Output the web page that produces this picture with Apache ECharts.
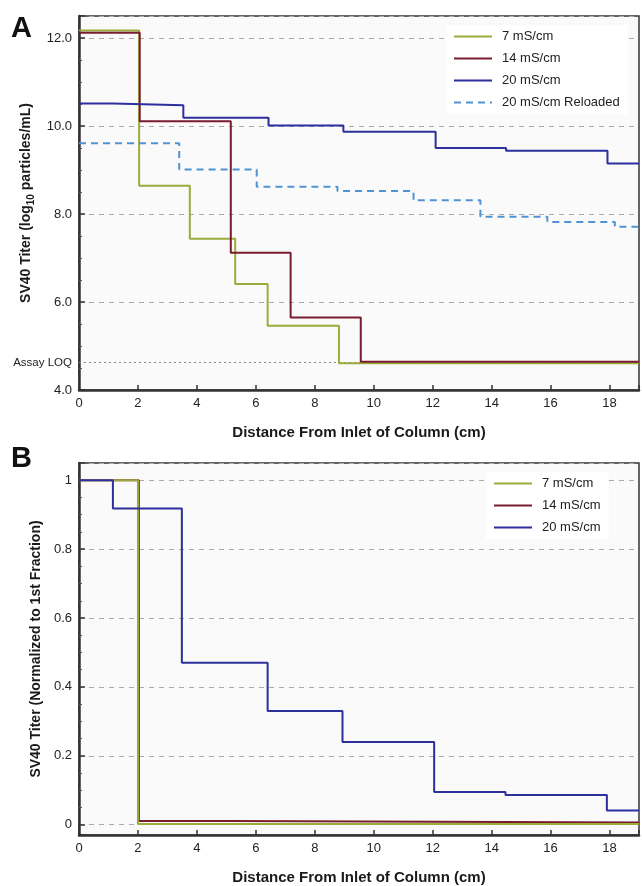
<!DOCTYPE html>
<html>
<head>
<meta charset="utf-8">
<script src="https://cdn.jsdelivr.net/npm/echarts@6.0.0/dist/echarts.min.js"></script>
<style>
	html, body { margin: 0; padding: 0; background: #fff; }
	#chart { width: 642px; height: 886px; }
</style>
</head>
<body>
<div id="chart"></div>
<script>
// panel A : log10 titer, step values start at the x given
var a7 = [[0, 12.17], [2.04, 8.64], [3.76, 7.44], [5.30, 6.41], [6.40, 5.46], [8.82, 4.61], [19, 4.61]];
var a14 = [[0, 12.12], [2.06, 10.11], [5.15, 7.12], [7.18, 5.65], [9.56, 4.64], [19, 4.64]];
var a20 = [[0, 10.51], [1.15, 10.47], [3.54, 10.19], [6.43, 10.01], [8.97, 9.87], [12.10, 9.50], [14.49, 9.44], [17.93, 9.15], [19, 9.15]];
var a20r = [[0, 9.61], [3.40, 9.01], [6.03, 8.62], [8.77, 8.52], [11.35, 8.31], [13.62, 7.94], [15.89, 7.82], [18.18, 7.71], [19, 7.71]];
var assayLOQ = 4.62;

// panel B : normalized to 1st fraction
var b7 = [[0, 1], [2.0, 0.002], [19, 0.002]];
var b14 = [[0, 1], [2.03, 0.011], [5.15, 0.006], [19, 0.006]];
var b20 = [[0, 1], [1.15, 0.918], [3.49, 0.47], [6.40, 0.33], [8.94, 0.24], [12.05, 0.095], [14.47, 0.086], [17.91, 0.041], [19, 0.041]];

var legendA = ['7 mS/cm', '14 mS/cm', '20 mS/cm', '20 mS/cm Reloaded'];
var legendB = ['7 mS/cm', '14 mS/cm', '20 mS/cm'];

var font = 'Liberation Sans, Arial, sans-serif';
var colors = {
	'7 mS/cm': '#9cab3a',
	'14 mS/cm': '#7a1c30',
	'20 mS/cm': '#2d2f9c',
	'20 mS/cm Reloaded': '#4f93d3'
};

function xAxisFor(index) {
	return {
		type: 'value',
		gridIndex: index,
		min: 0,
		max: 19,
		interval: 2,
		name: 'Distance From Inlet of Column (cm)',
		nameLocation: 'middle',
		nameGap: 35,
		nameTextStyle: { fontFamily: font, fontSize: 15, fontWeight: 'bold', color: '#1a1a1a' },
		axisLine: { onZero: false, lineStyle: { color: '#333', width: 2.5 } },
		axisTick: { inside: true, length: 5, lineStyle: { color: '#333', width: 1.5 } },
		axisLabel: {
			fontFamily: font, fontSize: 13, color: '#222', margin: 7,
			formatter: function(v) { return v % 2 === 0 ? String(v) : ''; }
		},
		splitLine: { show: false }
	};
}

function yAxisFor(index, opts) {
	var ax = {
		type: 'value',
		gridIndex: index,
		nameLocation: 'middle',
		nameTextStyle: { fontFamily: font, fontSize: 14, fontWeight: 'bold', color: '#1a1a1a' },
		axisLine: { lineStyle: { color: '#333', width: 2.5 } },
		axisTick: { inside: true, length: 6, lineStyle: { color: '#333', width: 1.5 } },
		minorTick: { show: true, splitNumber: 4, length: 3, lineStyle: { color: '#555', width: 1 } },
		axisLabel: { fontFamily: font, fontSize: 13, color: '#222', margin: 7, showMaxLabel: false },
		splitLine: { show: true, lineStyle: { color: '#aaa', type: [5, 5], width: 1 } }
	};
	for (var k in opts) ax[k] = opts[k];
	return ax;
}

function stepSeries(name, data, xi, yi, dashed) {
	return {
		name: name,
		type: 'line',
		step: 'end',
		xAxisIndex: xi,
		yAxisIndex: yi,
		symbol: 'none',
		data: data,
		lineStyle: { color: colors[name], width: 2, type: dashed ? [7, 5] : 'solid' },
		itemStyle: { color: colors[name] }
	};
}

var series = [
	stepSeries('7 mS/cm', a7, 0, 0),
	stepSeries('14 mS/cm', a14, 0, 0),
	stepSeries('20 mS/cm', a20, 0, 0),
	stepSeries('20 mS/cm Reloaded', a20r, 0, 0, true),
	stepSeries('14 mS/cm', b14, 1, 1),
	stepSeries('7 mS/cm', b7, 1, 1),
	stepSeries('20 mS/cm', b20, 1, 1)
];

// LOQ dotted line with its label on the left
series[0].markLine = {
	silent: true,
	symbol: 'none',
	z: 1,
	data: [{ yAxis: assayLOQ }],
	lineStyle: { color: '#888', type: [2, 3], width: 1 },
	label: { position: 'start', formatter: 'Assay LOQ', fontFamily: font, fontSize: 11.5, color: '#222', distance: 7 }
};

var legendCommon = {
	orient: 'vertical',
	itemWidth: 38,
	itemHeight: 14,
	itemGap: 9,
	backgroundColor: '#fff',
	itemStyle: { opacity: 0 },
	textStyle: { fontFamily: font, fontSize: 13, color: '#222', padding: [0, 0, 0, 5] }
};

var chart = echarts.init(document.getElementById('chart'), null, { renderer: 'canvas' });

var option = {
	backgroundColor: '#fff',
	animation: false,
	title: [{
		text: 'A', left: 6, top: 9,
		textStyle: { fontFamily: font, fontSize: 29, fontWeight: 'bold', color: '#111' }
	}, {
		text: 'B', left: 6, top: 439,
		textStyle: { fontFamily: font, fontSize: 29, fontWeight: 'bold', color: '#111' }
	}],
	legend: [
		Object.assign({}, legendCommon, { data: legendA, left: 446, top: 25, padding: [5, 8, 5, 7] }),
		Object.assign({}, legendCommon, { data: legendB, left: 486, top: 472, padding: [5, 8, 5, 7] })
	],
	grid: [{
		left: 79, top: 16, right: -2, height: 374,
		show: true, backgroundColor: '#fafafa', borderColor: '#333', borderWidth: 1.5
	}, {
		left: 79, top: 463, right: -2, height: 373,
		show: true, backgroundColor: '#fafafa', borderColor: '#333', borderWidth: 1.5
	}],
	xAxis: [xAxisFor(0), xAxisFor(1)],
	yAxis: [
		yAxisFor(0, {
			min: 4, max: 12.5, interval: 2,
			name: '{t|SV40 Titer (log}{s|10}{t| particles/mL)}',
			nameGap: 43,
			nameTextStyle: {
				rich: {
					t: { fontFamily: font, fontSize: 14, fontWeight: 'bold', color: '#1a1a1a' },
					s: { fontFamily: font, fontSize: 10, fontWeight: 'bold', color: '#1a1a1a', padding: [9, 0, 0, 0] }
				}
			},
			axisLabel: {
				fontFamily: font, fontSize: 13, color: '#222', margin: 7, showMaxLabel: false,
				formatter: function(v) { return v.toFixed(1); }
			}
		}),
		yAxisFor(1, {
			min: -0.03, max: 1.05, splitNumber: 5,
			name: 'SV40 Titer (Normalized to 1st Fraction)',
			nameGap: 26
		})
	],
	series: series
};

chart.setOption(option);
</script>
</body>
</html>
